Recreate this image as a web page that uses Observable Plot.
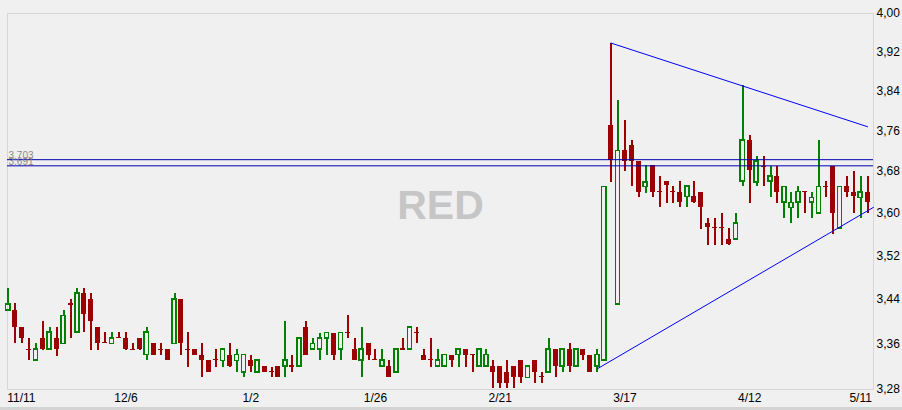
<!DOCTYPE html>
<html><head><meta charset="utf-8">
<script src="https://cdn.jsdelivr.net/npm/d3@7"></script>
<script src="https://cdn.jsdelivr.net/npm/@observablehq/plot@0.6"></script>
<style>
html,body{margin:0;padding:0;background:#f0f0f0;}
#wrap{width:902px;height:407px;border-bottom:3px solid #d4d4d4;}
#wrap svg{display:block}
</style></head><body><div id="wrap"></div>
<script>
// OHLC per trading session (index 0 = 11/11)
const open = [3.420,3.420,3.389,3.350,3.331,3.369,3.350,3.370,3.360,3.432,
3.380,3.450,3.440,3.389,3.362,3.360,3.372,3.370,3.350,3.370,
3.340,3.360,3.350,3.350,3.360,3.440,3.350,3.350,3.340,3.331,
3.332,3.330,3.340,3.330,3.310,3.331,3.310,3.320,3.311,3.320,
3.320,3.321,3.320,3.389,3.350,3.350,3.369,3.379,3.350,3.380,
3.350,3.331,3.360,3.332,3.320,3.320,3.310,3.351,3.350,3.381,
3.340,3.332,3.320,3.320,3.340,3.340,3.350,3.341,3.320,3.320,
3.320,3.320,3.310,3.320,3.331,3.300,3.331,3.302,3.310,3.350,
3.320,3.350,3.320,3.350,3.340,3.320,3.331,3.770,3.431,3.720,
3.731,3.700,3.650,3.692,3.641,3.661,3.641,3.639,3.631,3.631,
3.639,3.581,3.572,3.572,3.550,3.550,3.661,3.741,3.659,3.690,
3.661,3.670,3.620,3.610,3.620,3.641,3.620,3.599,3.651,3.690,
3.571,3.650,3.639,3.629,3.640];
const high = [3.459,3.432,3.389,3.369,3.360,3.400,3.389,3.389,3.420,3.440,
3.459,3.459,3.450,3.389,3.380,3.380,3.380,3.380,3.360,3.370,
3.389,3.360,3.360,3.350,3.450,3.440,3.380,3.350,3.361,3.331,
3.350,3.350,3.361,3.350,3.340,3.340,3.331,3.320,3.319,3.320,
3.400,3.340,3.369,3.400,3.369,3.379,3.379,3.379,3.379,3.411,
3.369,3.389,3.360,3.350,3.350,3.331,3.350,3.369,3.389,3.389,
3.350,3.369,3.350,3.340,3.340,3.350,3.350,3.341,3.350,3.350,
3.331,3.320,3.331,3.320,3.331,3.320,3.331,3.310,3.369,3.350,
3.350,3.360,3.350,3.350,3.340,3.350,3.650,3.938,3.821,3.781,
3.741,3.700,3.692,3.692,3.670,3.661,3.651,3.661,3.651,3.661,
3.639,3.589,3.589,3.600,3.571,3.599,3.851,3.751,3.709,3.709,
3.690,3.690,3.650,3.640,3.650,3.641,3.640,3.741,3.661,3.690,
3.650,3.670,3.680,3.670,3.670];
const low = [3.420,3.360,3.360,3.330,3.331,3.348,3.350,3.338,3.360,3.369,
3.380,3.380,3.348,3.348,3.360,3.360,3.369,3.348,3.348,3.348,
3.330,3.340,3.340,3.331,3.360,3.340,3.319,3.340,3.300,3.310,
3.319,3.319,3.319,3.310,3.300,3.310,3.310,3.310,3.300,3.300,
3.300,3.310,3.320,3.340,3.350,3.331,3.340,3.331,3.331,3.369,
3.331,3.300,3.330,3.330,3.319,3.300,3.310,3.349,3.350,3.360,
3.331,3.319,3.320,3.320,3.319,3.319,3.319,3.310,3.320,3.320,
3.281,3.281,3.281,3.281,3.290,3.300,3.290,3.290,3.310,3.300,
3.310,3.310,3.320,3.331,3.310,3.310,3.331,3.659,3.431,3.679,
3.650,3.629,3.638,3.629,3.610,3.619,3.619,3.610,3.610,3.619,
3.569,3.539,3.539,3.539,3.539,3.550,3.650,3.619,3.650,3.650,
3.629,3.619,3.589,3.580,3.589,3.599,3.589,3.599,3.629,3.559,
3.571,3.629,3.599,3.589,3.599];
const close = [3.431,3.390,3.370,3.348,3.350,3.350,3.380,3.350,3.410,3.429,
3.450,3.412,3.400,3.361,3.360,3.370,3.369,3.350,3.348,3.350,
3.380,3.340,3.348,3.331,3.440,3.360,3.348,3.340,3.331,3.310,
3.330,3.350,3.320,3.340,3.340,3.320,3.331,3.310,3.309,3.300,
3.331,3.319,3.369,3.340,3.360,3.369,3.379,3.340,3.379,3.378,
3.331,3.350,3.340,3.330,3.331,3.300,3.350,3.349,3.389,3.379,
3.331,3.330,3.331,3.340,3.331,3.350,3.340,3.339,3.350,3.340,
3.310,3.290,3.290,3.300,3.300,3.320,3.310,3.300,3.350,3.320,
3.350,3.320,3.350,3.340,3.310,3.340,3.650,3.702,3.720,3.700,
3.700,3.640,3.659,3.640,3.639,3.652,3.639,3.621,3.651,3.621,
3.611,3.572,3.570,3.570,3.541,3.580,3.741,3.682,3.700,3.687,
3.670,3.640,3.650,3.619,3.640,3.639,3.629,3.650,3.649,3.599,
3.650,3.640,3.631,3.639,3.621];

// date tick labels (session index -> label)
const tickIndex = [0, 17, 35, 53, 71, 89, 107, 123];
const tickLabel = ["11/11", "12/6", "1/2", "1/26", "2/21", "3/17", "4/12", "5/11"];
const yTicks = [3.28, 3.36, 3.44, 3.52, 3.60, 3.68, 3.76, 3.84, 3.92, 4.00];
const levels = [3.703, 3.691];
const upperTrend = [[87, 3.938], [124, 3.768]];
const lowerTrend = [[85, 3.316], [124.86, 3.611]];

const UP = "#008000", DOWN = "#9c0000";
const candles = open.map((o, i) => ({i, o, h: high[i], l: low[i], c: close[i], up: close[i] >= o}));
const ticks = tickIndex.map((i, j) => ({i, label: tickLabel[j]}));
const fmt2 = v => d3.format(".2f")(v).replace(".", ",");
const fmt3 = v => d3.format(".3f")(v).replace(".", ",");
const col = d => d.up ? UP : DOWN;

const chart = Plot.plot({
  width: 902, height: 407,
  marginLeft: 7, marginRight: 29, marginTop: 13, marginBottom: 18,
  style: {background: "#f0f0f0", fontFamily: "'Liberation Sans', Arial, sans-serif", fontSize: "12px", color: "#000", overflow: "visible"},
  x: {type: "linear", domain: [-0.1, 124.86], axis: null},
  y: {type: "log", domain: [3.28, 4.00]},
  marks: [
    Plot.frame({stroke: "#d6d6d6"}),
    Plot.text(["RED"], {frameAnchor: "middle", dy: 4, fontSize: 41, fontWeight: "bold", fill: "#c6c6c6"}),
    Plot.ruleX(candles, {x: "i", y1: "h", y2: d => Math.max(d.o, d.c), stroke: col, strokeWidth: 2, shapeRendering: "crispEdges"}),
    Plot.ruleX(candles, {x: "i", y1: d => Math.min(d.o, d.c), y2: "l", stroke: col, strokeWidth: 2, shapeRendering: "crispEdges"}),
    Plot.rect(candles.filter(d => !d.up), {x1: d => d.i - 0.36, x2: d => d.i + 0.36, y1: "o", y2: "c", fill: DOWN, shapeRendering: "crispEdges"}),
    Plot.rect(candles.filter(d => d.up), {x1: d => d.i - 0.29, x2: d => d.i + 0.29, y1: "o", y2: "c", fill: "none", stroke: UP, strokeWidth: 1.6, shapeRendering: "crispEdges"}),
    Plot.ruleY(levels, {stroke: "#0000b0", strokeWidth: 1}),
    Plot.text(levels, {y: d => d, frameAnchor: "left", dx: 1, textAnchor: "start", lineAnchor: "bottom", dy: -0.5, text: d => fmt3(d), fill: "#8a8a8a", fontSize: 10}),
    Plot.line(upperTrend, {x: d => d[0], y: d => d[1], stroke: "#0000ff", strokeWidth: 1}),
    Plot.line(lowerTrend, {x: d => d[0], y: d => d[1], stroke: "#0000ff", strokeWidth: 1}),
    Plot.axisY({anchor: "right", ticks: yTicks, tickFormat: fmt2, tickSize: 0, tickPadding: 3, fontSize: 12, label: null}),
    Plot.text(ticks.slice(0, 1), {x: "i", text: "label", frameAnchor: "bottom", dy: 9, dx: -1, textAnchor: "start", lineAnchor: "middle", fontSize: 12, fill: "#000"}),
    Plot.text(ticks.slice(1), {x: "i", text: "label", frameAnchor: "bottom", dy: 9, textAnchor: "middle", lineAnchor: "middle", fontSize: 12, fill: "#000"})
  ]
});
document.getElementById("wrap").appendChild(chart);
</script>
</body></html>
